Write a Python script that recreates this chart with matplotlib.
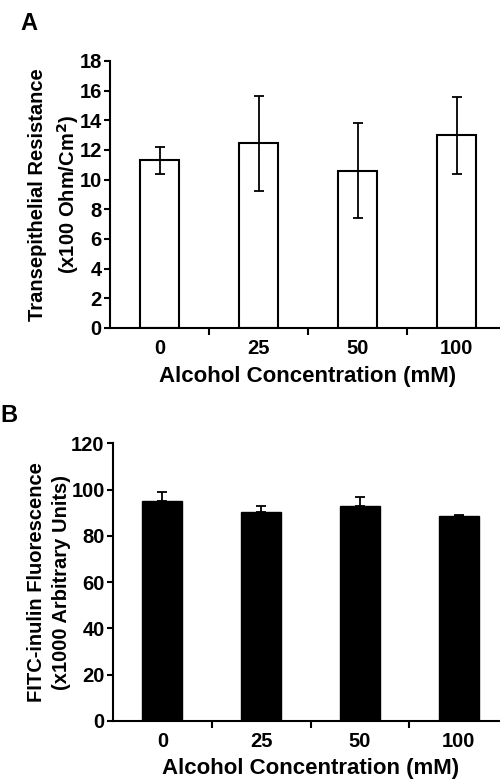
import matplotlib
matplotlib.use("Agg")
import matplotlib.pyplot as plt
import numpy as np

plt.rcParams['font.family'] = ['Liberation Sans', 'DejaVu Sans']
plt.rcParams['font.weight'] = 'bold'

categories = ["0", "25", "50", "100"]
resistance = [11.3, 12.45, 10.6, 13.0]
resistance_err = [0.9, 3.2, 3.2, 2.6]
fluorescence = [95.0, 90.5, 93.0, 88.5]
fluorescence_err = [4.0, 2.5, 3.7, 0.6]
yticks_a = [0, 2, 4, 6, 8, 10, 12, 14, 16, 18]
yticks_b = [0, 20, 40, 60, 80, 100, 120]

fig = plt.figure(figsize=(5.0, 7.79), dpi=100)
axA = fig.add_axes([0.22, 0.579, 0.792, 0.3427])
axB = fig.add_axes([0.226, 0.0745, 0.79, 0.3565])

x = np.arange(len(categories))

def style(ax):
    for s in ['top', 'right']:
        ax.spines[s].set_visible(False)
    for s in ['left', 'bottom']:
        ax.spines[s].set_linewidth(1.5)
    ax.set_xlim(-0.5, 3.5)
    ax.set_xticks(x)
    ax.set_xticklabels(categories, fontsize=14.5, fontweight='bold')
    ax.tick_params(axis='x', which='major', length=0, pad=8)
    ax.set_xticks([0.5, 1.5, 2.5], minor=True)
    ax.tick_params(axis='x', which='minor', length=5, width=1.5, direction='out')
    ax.tick_params(axis='y', length=4, width=1.5, direction='out', labelsize=14.5, pad=2)
    for lbl in ax.get_yticklabels():
        lbl.set_fontweight('bold')

axA.bar(x, resistance, width=0.4, color='white', edgecolor='black', linewidth=1.5, zorder=2)
axA.errorbar(x, resistance, yerr=resistance_err, fmt='none', ecolor='black',
             elinewidth=1.3, capsize=3.8, capthick=1.3, zorder=3)
axA.set_ylim(0, 18)
axA.set_yticks(yticks_a)
style(axA)
axA.set_xlabel("Alcohol Concentration (mM)", fontsize=16, fontweight='bold', labelpad=6)
axA.set_ylabel("Transepithelial Resistance\n(x100 Ohm/Cm$^\\mathbf{2}$)", fontsize=14.5,
               fontweight='bold', linespacing=1.4, labelpad=-1)

axB.bar(x, fluorescence, width=0.405, color='black', edgecolor='black', linewidth=1.0, zorder=2)
axB.errorbar(x, fluorescence, yerr=[np.zeros(4), fluorescence_err], fmt='none', ecolor='black',
             elinewidth=1.3, capsize=3.8, capthick=1.3, zorder=3)
axB.set_ylim(0, 120)
axB.set_yticks(yticks_b)
style(axB)
axB.set_xlabel("Alcohol Concentration (mM)", fontsize=16, fontweight='bold', labelpad=5)
axB.set_ylabel("FITC-inulin Fluorescence\n(x1000 Arbitrary Units)", fontsize=14.5,
               fontweight='bold', linespacing=1.4, labelpad=0)

fig.text(0.04, 0.970, "A", fontsize=17, fontweight='bold', ha='left', va='center')
fig.text(0.0, 0.466, "B", fontsize=17, fontweight='bold', ha='left', va='center')

fig.savefig("out.png", dpi=100)
